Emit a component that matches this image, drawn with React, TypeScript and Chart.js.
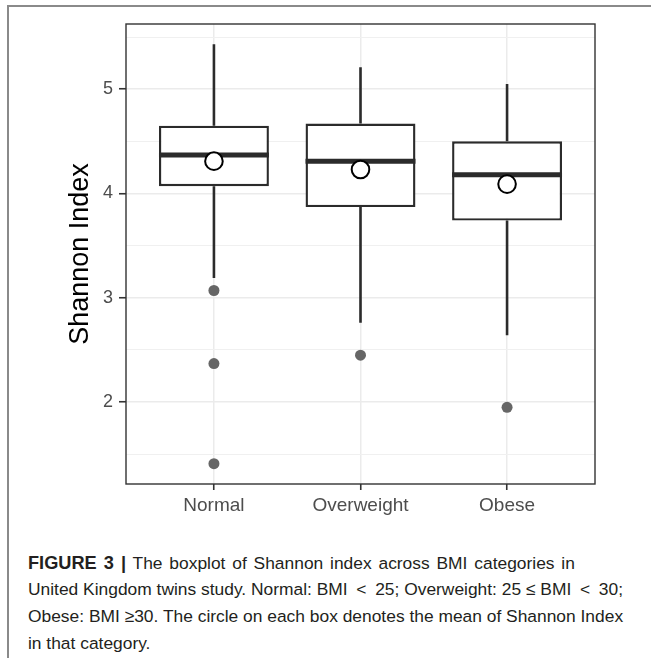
import React, { useEffect, useRef } from 'react';
import { Chart, registerables } from 'chart.js';

Chart.register(...registerables);

// ---- data ----
const categories = ['Normal', 'Overweight', 'Obese'];
const whiskerHigh = [5.43, 5.21, 5.05];
const q3 = [4.65, 4.67, 4.5];
const medians = [4.37, 4.31, 4.18];
const q1 = [4.07, 3.87, 3.74];
const whiskerLow = [3.19, 2.76, 2.64];
const means = [4.31, 4.23, 4.09];
const outliers = [[3.07, 2.37, 1.41], [2.45], [1.95]];
const yMajorTicks = [2, 3, 4, 5];
const yMinorTicks = [1.5, 2.5, 3.5, 4.5, 5.5];
const yMin = 1.215;
const yMax = 5.625;
const xMin = 0.4;
const xMax = 3.6;

const BOX_WIDTH = 0.75;
const FONT = '"Liberation Sans", Arial, Helvetica, sans-serif';
const INK = '#2b2b2b';

const panelBorder = {
  id: 'panelBorder',
  afterDatasetsDraw(chart: any) {
    const { ctx, chartArea } = chart;
    const { left, top, right, bottom } = chartArea;
    ctx.save();
    ctx.strokeStyle = '#333333';
    ctx.lineWidth = 1.4;
    ctx.strokeRect(left, top, right - left, bottom - top);
    ctx.restore();
  },
};

export default function App() {
  const canvasRef = useRef<HTMLCanvasElement | null>(null);

  useEffect(() => {
    const canvas = canvasRef.current;
    if (!canvas) return;
    const hw = BOX_WIDTH / 2;

    const whiskerData = categories.flatMap((_, i) => [
      { x: i + 1, y: q3[i] },
      { x: i + 1, y: whiskerHigh[i] },
      { x: i + 1, y: null },
      { x: i + 1, y: q1[i] },
      { x: i + 1, y: whiskerLow[i] },
      { x: i + 1, y: null },
    ]);
    const boxData = categories.map((_, i) => ({ x: i + 1, y: [q1[i], q3[i]] }));
    const medianData = categories.flatMap((_, i) => [
      { x: i + 1 - hw, y: medians[i] },
      { x: i + 1 + hw, y: medians[i] },
      { x: i + 1 + hw, y: null },
    ]);
    const outlierData = outliers.flatMap((vals, i) => vals.map((v) => ({ x: i + 1, y: v })));
    const meanData = means.map((v, i) => ({ x: i + 1, y: v }));

    const chart = new Chart(canvas, {
      type: 'bar',
      data: {
        datasets: [
          {
            type: 'line',
            data: whiskerData as any,
            borderColor: INK,
            borderWidth: 2.6,
            pointRadius: 0,
            spanGaps: false,
            borderCapStyle: 'butt',
            order: 5,
          } as any,
          {
            type: 'bar',
            data: boxData as any,
            backgroundColor: '#ffffff',
            borderColor: INK,
            borderWidth: 2.4,
            borderSkipped: false,
            barPercentage: BOX_WIDTH,
            categoryPercentage: 1,
            order: 4,
          } as any,
          {
            type: 'line',
            data: medianData as any,
            borderColor: INK,
            borderWidth: 5,
            pointRadius: 0,
            spanGaps: false,
            borderCapStyle: 'butt',
            order: 3,
          } as any,
          {
            type: 'line',
            data: outlierData as any,
            showLine: false,
            pointRadius: 5.5,
            pointBackgroundColor: '#666666',
            pointBorderColor: '#666666',
            pointBorderWidth: 0,
            order: 2,
          } as any,
          {
            type: 'line',
            data: meanData as any,
            showLine: false,
            pointRadius: 8.8,
            pointBackgroundColor: '#ffffff',
            pointBorderColor: '#000000',
            pointBorderWidth: 2,
            order: 1,
          } as any,
        ],
      },
      options: {
        animation: false,
        responsive: false,
        maintainAspectRatio: false,
        events: [],
        layout: { padding: { left: 0, top: 24, right: 56, bottom: 0 } },
        plugins: {
          legend: { display: false },
          tooltip: { enabled: false },
        },
        scales: {
          x: {
            type: 'linear',
            min: xMin,
            max: xMax,
            offset: false,
            afterBuildTicks: (s: any) => {
              s.ticks = categories.map((_, i) => ({ value: i + 1 }));
            },
            afterFit: (s: any) => {
              s.height = 46;
            },
            ticks: {
              autoSkip: false,
              maxRotation: 0,
              padding: 4,
              color: '#4d4d4d',
              font: { family: FONT, size: 19 },
              callback: (v: any) => categories[Number(v) - 1] ?? '',
            },
            grid: {
              offset: false,
              color: '#ebebeb',
              lineWidth: 1.5,
              tickColor: '#333333',
              tickLength: 6,
              tickWidth: 1.6,
            },
            border: { display: false },
          },
          y: {
            type: 'linear',
            min: yMin,
            max: yMax,
            afterBuildTicks: (s: any) => {
              s.ticks = [...yMinorTicks, ...yMajorTicks]
                .sort((a, b) => a - b)
                .map((v) => ({ value: v }));
            },
            afterFit: (s: any) => {
              s.width = 126;
            },
            ticks: {
              autoSkip: false,
              padding: 6,
              color: '#4d4d4d',
              font: { family: FONT, size: 18 },
              callback: (v: any) => (yMajorTicks.includes(Number(v)) ? String(v) : ''),
            },
            grid: {
              color: (c: any) => (yMajorTicks.includes(c.tick?.value) ? '#ebebeb' : '#f0f0f0'),
              lineWidth: (c: any) => (yMajorTicks.includes(c.tick?.value) ? 1.5 : 1),
              tickColor: (c: any) => (yMajorTicks.includes(c.tick?.value) ? '#333333' : 'rgba(0,0,0,0)'),
              tickLength: 7,
              tickWidth: 1.6,
            },
            border: { display: false },
            title: {
              display: true,
              text: 'Shannon Index',
              color: '#000000',
              font: { family: FONT, size: 27 },
              padding: { top: 64, bottom: 0 },
            },
          },
        },
      } as any,
      plugins: [panelBorder],
    });

    return () => chart.destroy();
  }, []);

  return (
    <div style={{ position: 'fixed', left: 0, top: 0, width: 651, height: 658, background: '#fff', overflow: 'hidden' }}>
      <div
        style={{
          position: 'absolute',
          left: 7,
          top: 5,
          right: 0,
          bottom: 0,
          borderTop: '2px solid #8a8a8a',
          borderLeft: '2px solid #8a8a8a',
          boxSizing: 'border-box',
        }}
      />
      <canvas
        ref={canvasRef}
        width={651}
        height={530}
        style={{ position: 'absolute', left: 0, top: 0, width: 651, height: 530 }}
      />
      <div
        style={{
          position: 'absolute',
          left: 28,
          top: 549.5,
          fontFamily: FONT,
          fontSize: 17.4,
          lineHeight: '26.7px',
          whiteSpace: 'nowrap',
          color: '#231f20',
        }}
      >
        <span style={{ wordSpacing: '2px' }}>
          <b style={{ fontSize: 18.2 }}>FIGURE 3 |</b> The boxplot of Shannon index across BMI categories in
        </span>
        <br />
        United Kingdom twins study. Normal: BMI{'\u2002'}&lt;{'\u2002'}25; Overweight: 25 ≤ BMI{'\u2002'}&lt;{'\u2002'}30;
        <br />
        Obese: BMI ≥30. The circle on each box denotes the mean of Shannon Index
        <br />
        in that category.
      </div>
    </div>
  );
}
